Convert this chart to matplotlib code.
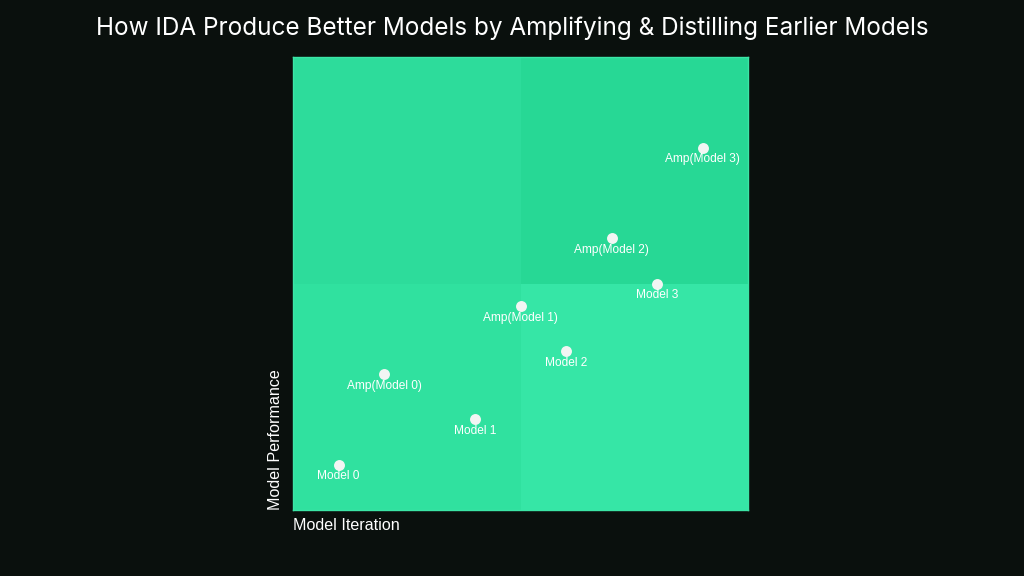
import matplotlib
matplotlib.use("Agg")
import matplotlib.pyplot as plt
from matplotlib.patches import Rectangle

labels = ["Model 0", "Amp(Model 0)", "Model 1", "Amp(Model 1)", "Model 2",
          "Amp(Model 2)", "Model 3", "Amp(Model 3)"]
iteration = [1, 2, 4, 5, 6, 7, 8, 9]
performance = [1, 3, 2, 4.5, 3.5, 6, 5, 8]

quad_x = [0, 5, 0, 5]
quad_y = [5, 5, 0, 0]
quad_colors = ["#2ddc9b", "#27d895", "#30e19f", "#36e6a6"]

bg = "#0a100d"
fig = plt.figure(figsize=(10.24, 5.76), dpi=100, facecolor=bg)
ax = fig.add_axes([293/1024, 66/576, 455/1024, 453/576])
ax.set_xlim(0, 10)
ax.set_ylim(0, 10)
ax.set_facecolor("#33e2a1")
for qx, qy, c in zip(quad_x, quad_y, quad_colors):
    ax.add_patch(Rectangle((qx, qy), 5, 5, facecolor=c, edgecolor="none", zorder=1))
for s in ax.spines.values():
    s.set_color("#3be6a6")
    s.set_linewidth(1.0)
ax.set_xticks([])
ax.set_yticks([])

ax.scatter(iteration, performance, s=62, color="#f2f5f3", zorder=3, linewidths=0)
for x, y, t in zip(iteration, performance, labels):
    ax.annotate(t, (x, y), xytext=(0, -8.3), textcoords="offset points",
                ha="center", va="center", fontsize=8.6, color="white",
                family="Liberation Sans", zorder=4)

fig.text(293/1024, 1 - 526/576, "Model Iteration", ha="left", va="center",
         fontsize=11.6, color="white", family="Liberation Sans")
fig.text(276/1024, 1 - 510/576, "Model Performance", ha="center", va="bottom",
         rotation=90, fontsize=11.6, color="white", family="Liberation Sans")
fig.text(512/1024, 1 - 28/576,
         "How IDA Produce Better Models by Amplifying & Distilling Earlier Models",
         ha="center", va="center", fontsize=17.5, color="white", family="Inter")

fig.savefig("out.png", dpi=100, facecolor=bg)
